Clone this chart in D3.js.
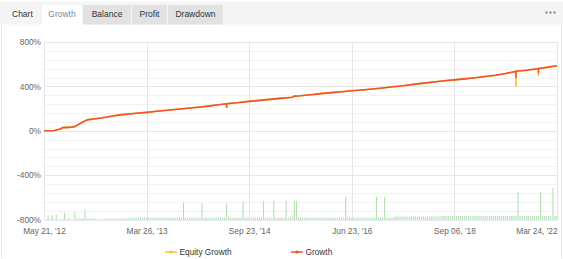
<!DOCTYPE html>
<html>
<head>
<meta charset="utf-8">
<script src="https://cdn.jsdelivr.net/npm/d3@7"></script>
<style>
  html, body { margin: 0; padding: 0; background: #fff; }
  svg { display: block; font-family: "Liberation Sans", Arial, sans-serif; }
</style>
</head>
<body>
<div id="chart"></div>
<script>
// tabs above the chart
const tabNames = ["Growth", "Balance", "Profit", "Drawdown"];

// x axis: category axis, one slot per trade date
const pointCount = 251;
const tickIndex = [0, 50, 100, 150, 200, 250];
const tickLabels = ["May 21, '12", "Mar 26, '13", "Sep 23, '14", "Jun 23, '16", "Sep 06, '18", "Mar 24, '22"];

// y axis
const yTicks = [-800, -400, 0, 400, 800];

// growth curve (index into categories, %); the dips are intraday, so they repeat the index
const lineIndex = [0, 5, 8, 9, 12, 15, 18, 21, 25, 28, 32, 37, 45, 50, 55, 60, 65, 70, 75, 80,
  85, 89, 89, 89, 95, 100, 105, 110, 115, 120, 121, 122, 125, 130, 135, 140, 145, 150, 155, 160,
  165, 170, 175, 180, 185, 190, 195, 200, 205, 210, 215, 220, 225, 230, 230, 230, 235, 241, 241, 241,
  245, 250];
const growth = [0, 2, 15, 28, 30, 37, 70, 98, 108, 115, 128, 143, 158, 166, 176, 185, 194, 203, 212, 222,
  234, 243, 212, 244, 254, 265, 274, 283, 292, 300, 302, 312, 316, 325, 335, 344, 352, 360, 368, 377,
  386, 396, 405, 418, 429, 440, 450, 459, 468, 478, 489, 500, 516, 535, 480, 537, 546, 560, 525, 561,
  571, 586];
const equityGrowth = [0, 2, 15, 28, 30, 37, 70, 98, 108, 115, 128, 143, 158, 166, 176, 185, 194, 203, 212, 222,
  234, 243, 205, 244, 254, 265, 274, 283, 292, 300, 302, 312, 316, 325, 335, 344, 352, 360, 368, 377,
  386, 396, 405, 418, 429, 440, 450, 459, 468, 478, 489, 500, 516, 535, 397, 537, 546, 560, 488, 561,
  571, 586];

// green columns along the bottom, one per category
const columns = [
  0, 0, 1.3, 0, 1.3, 0, 1.4, 0, 0, 0,
  1.9, 0, 0.4, 0, 0, 2.1, 0.35, 0.3, 0.3, 0.3,
  2.9, 0.3, 0.3, 0.3, 0.3, 0.3, 0, 0, 0, 0,
  0.3, 0.3, 0.3, 0.3, 0.3, 0.3, 0.3, 0.3, 0.3, 0.3,
  0.3, .55, .55, .55, .55, .55, .55, .55, .55, .55,
  .55, .55, .55, .55, .55, .55, .55, .55, .55, .55,
  .55, .55, .55, .55, .55, .55, .55, .55, 4.7, .55,
  .55, .55, .55, .55, .55, .55, .55, 4.7, .55, .55,
  .55, .55, .55, .55, .55, .55, .55, .55, .55, 4.5,
  .55, .55, .55, .55, .55, .55, .55, 5.2, .55, .55,
  .55, .55, .55, .55, .55, .55, .55, 5.2, .55, .55,
  .55, .55, 5.2, .55, .55, .55, .55, .55, 5.2, .55,
  .55, .55, 5.2, 5.2, .55, .55, .55, .55, .55, .55,
  .55, .55, .55, .55, .55, .55, .55, .55, .55, .55,
  .55, .55, .55, .55, .55, .55, .55, 6.4, .55, .55,
  .55, .55, .55, .55, .55, .55, .55, .55, .55, .55,
  .55, .55, 6.4, .55, .55, .55, 6.4, .55, .55, .55,
  .55, .85, .85, .85, .85, .85, .85, .85, .85, .85,
  .85, .85, .85, .85, .85, .85, .85, .85, .85, .85,
  .85, .85, .85, .85, 1, 1, 1, 1, 1, 1,
  1, 1, 1, 1, 1, 1, 1, 1, 1, 1,
  1, 1, 1, 1, 1, 1, 1, 1, 1, 1,
  1, 1, 1, 1, 1, 1, 1, 1, 1, 1,
  1, 7.7, 1, 1, 1, 1, 1, 1, 1, 1,
  1, 1, 7.7, 1, 1, 1, 1, 1, 9.0, 1,
  1
];

const W = 563, H = 259;
const plot = { left: 44, right: 557, top: 42, bottom: 219.5 };

const svg = d3.select("#chart").append("svg")
  .attr("width", W)
  .attr("height", H);

// ---- tab bar ----
svg.append("rect").attr("x", 0).attr("y", 1.5).attr("width", W).attr("height", 23).attr("fill", "#f5f5f5");
svg.append("text").attr("x", 12).attr("y", 17).attr("font-size", 8.5).attr("fill", "#333").text("Chart");

const tabX = [42, 83, 132, 168];
const tabW = [40, 48, 35, 55];
const tabs = svg.selectAll(".tab").data(tabNames).join("g").attr("class", "tab");
tabs.append("rect")
  .attr("x", (d, i) => tabX[i])
  .attr("y", 5)
  .attr("width", (d, i) => tabW[i])
  .attr("height", (d, i) => i === 0 ? 20 : 19.5)
  .attr("fill", (d, i) => i === 0 ? "#fff" : "#e2e2e2");
tabs.append("text")
  .attr("x", (d, i) => tabX[i] + tabW[i] / 2)
  .attr("y", 17)
  .attr("text-anchor", "middle")
  .attr("font-size", 8.5)
  .attr("fill", (d, i) => i === 0 ? "#888" : "#333")
  .text(d => d);

// menu dots
svg.selectAll(".dot").data([0, 1, 2]).join("circle")
  .attr("cx", d => 546.5 + d * 4)
  .attr("cy", 12.5)
  .attr("r", 1.3)
  .attr("fill", "#999");

// frame
svg.append("path")
  .attr("d", `M1.5,24.5 V258.5 M561.5,24.5 V258.5`)
  .attr("stroke", "#e8e8e8")
  .attr("fill", "none");

// ---- scales ----
const x = d3.scaleLinear().domain([0, pointCount - 1]).range([plot.left, plot.right]);
const y = d3.scaleLinear().domain([-800, 800]).range([plot.bottom, plot.top]);
const yCol = d3.scaleLinear().domain([0, 50]).range([plot.bottom, plot.top]);

// minor grid (every 80%)
const minor = d3.range(-800, 801, 80).filter(v => !yTicks.includes(v));
svg.append("g").selectAll("line").data(minor).join("line")
  .attr("x1", plot.left).attr("x2", plot.right)
  .attr("y1", d => Math.round(y(d)) + 0.5).attr("y2", d => Math.round(y(d)) + 0.5)
  .attr("stroke", "#f2f2f2");

// major grid
svg.append("g").selectAll("line").data(yTicks.filter(v => v !== -800)).join("line")
  .attr("x1", plot.left).attr("x2", plot.right)
  .attr("y1", d => Math.round(y(d)) + 0.5).attr("y2", d => Math.round(y(d)) + 0.5)
  .attr("stroke", "#e6e6e6");

svg.append("g").selectAll("line").data(tickIndex).join("line")
  .attr("x1", d => Math.round(x(d)) + 0.5).attr("x2", d => Math.round(x(d)) + 0.5)
  .attr("y1", plot.top).attr("y2", plot.bottom)
  .attr("stroke", "#e6e6e6");

// y labels
const yAxis = d3.axisLeft(y).tickValues(yTicks).tickSize(0).tickPadding(3).tickFormat(d => d + "%");
const gy = svg.append("g").attr("transform", `translate(${plot.left},0)`).call(yAxis);
gy.select(".domain").remove();
gy.selectAll("text").attr("font-size", 8.3).attr("fill", "#666").attr("font-family", null);

// ---- columns ----
svg.append("g").selectAll("rect").data(columns).join("rect")
  .attr("x", (d, i) => x(i) - 0.5)
  .attr("y", d => yCol(d))
  .attr("width", 1)
  .attr("height", d => plot.bottom - yCol(d))
  .attr("fill", "#aedcae");

// x axis
const xAxis = d3.axisBottom(x).tickValues(tickIndex).tickSize(0).tickPadding(9)
  .tickFormat((d, i) => tickLabels[i]);
const gx = svg.append("g").attr("transform", `translate(0,${plot.bottom})`).call(xAxis);
gx.select(".domain").attr("stroke", "#ccd6eb");
gx.selectAll("text").attr("font-size", 8.3).attr("fill", "#666").attr("font-family", null);
gx.selectAll(".tick").filter((d, i) => i === tickIndex.length - 1)
  .select("text").attr("text-anchor", "end");

// ---- lines ----
const line = d3.line().x((d, i) => x(lineIndex[i])).y(d => y(d));
svg.append("path").datum(equityGrowth)
  .attr("d", line).attr("fill", "none")
  .attr("stroke", "#fbc02d").attr("stroke-width", 1.6);
svg.append("path").datum(growth)
  .attr("d", line).attr("fill", "none")
  .attr("stroke", "#f2522b").attr("stroke-width", 1.6).attr("stroke-linejoin", "round");

// ---- legend ----
const legend = [
  { name: "Equity Growth", color: "#fbc02d", x: 165 },
  { name: "Growth", color: "#f2522b", x: 291 }
];
const lg = svg.selectAll(".legend").data(legend).join("g")
  .attr("transform", d => `translate(${d.x},252)`);
lg.append("line").attr("x1", 0).attr("x2", 12).attr("stroke", d => d.color).attr("stroke-width", 1.5);
lg.append("circle").attr("cx", 6).attr("r", 1.5).attr("fill", d => d.color);
lg.append("text").attr("x", 14.5).attr("y", 3).attr("font-size", 8.3).attr("fill", "#333").text(d => d.name);
</script>
</body>
</html>
